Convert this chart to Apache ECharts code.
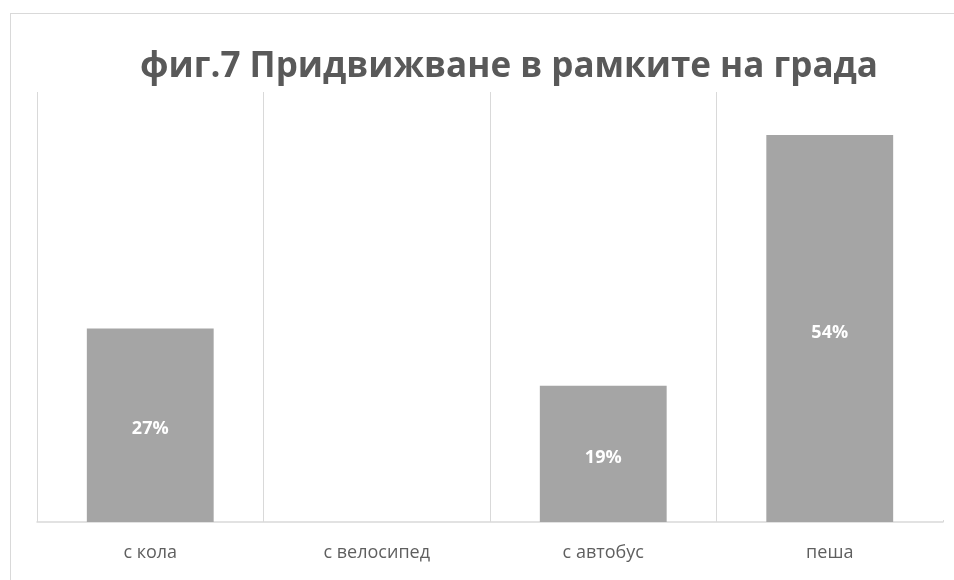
<!DOCTYPE html>
<html>
<head>
<meta charset="utf-8">
<script src="https://cdn.jsdelivr.net/npm/echarts@6/dist/echarts.min.js"></script>
<style>
  html, body { margin: 0; padding: 0; background: #fff; }
  #frame { position: absolute; left: 10px; top: 13px; width: 960px; height: 580px;
           border-left: 1px solid #d9d9d9; border-top: 1px solid #d9d9d9; }
  #chart { position: absolute; left: 0; top: 0; width: 954px; height: 580px; }
</style>
</head>
<body>
<div id="frame"></div>
<div id="chart"></div>
<script>
// Ways of getting around the city, share of respondents (%)
const categories = ['с кола', 'с велосипед', 'с автобус', 'пеша'];
const shares = [27, 0, 19, 54];
const titleText = 'фиг.7 Придвижване в рамките на града';

const chart = echarts.init(document.getElementById('chart'));
chart.setOption({
  animation: false,
  title: {
    text: titleText,
    left: 504,
    textAlign: 'center',
    top: 45,
    textStyle: {
      fontFamily: 'Open Sans',
      fontWeight: 'bold',
      fontSize: 35,
      color: '#595959'
    }
  },
  grid: { left: 37, right: 11, top: 92, bottom: 58 },
  xAxis: {
    type: 'category',
    data: categories,
    axisLine: { show: true, lineStyle: { color: '#d9d9d9', width: 1.5 } },
    axisTick: { show: false },
    splitLine: { show: true, lineStyle: { color: '#d9d9d9', width: 1 } },
    axisLabel: {
      margin: 22,
      fontFamily: 'Open Sans',
      fontSize: 18,
      color: '#5f5f5f'
    }
  },
  yAxis: {
    type: 'value',
    min: 0,
    max: 60,
    show: false,
    splitLine: { show: false }
  },
  // the right-hand edge of the plot has no separator line
  graphic: [{
    type: 'rect',
    shape: { x: 940, y: 88, width: 8, height: 432 },
    style: { fill: '#ffffff' },
    z: 100
  }],
  series: [{
    type: 'bar',
    data: shares,
    barWidth: '56%',
    itemStyle: { color: '#a5a5a5' },
    label: {
      show: true,
      position: 'inside',
      offset: [0, 4],
      formatter: p => p.value > 0 ? p.value + '%' : '',
      fontFamily: 'Open Sans',
      fontWeight: 'bold',
      fontSize: 18,
      color: '#ffffff'
    }
  }]
});
</script>
</body>
</html>
